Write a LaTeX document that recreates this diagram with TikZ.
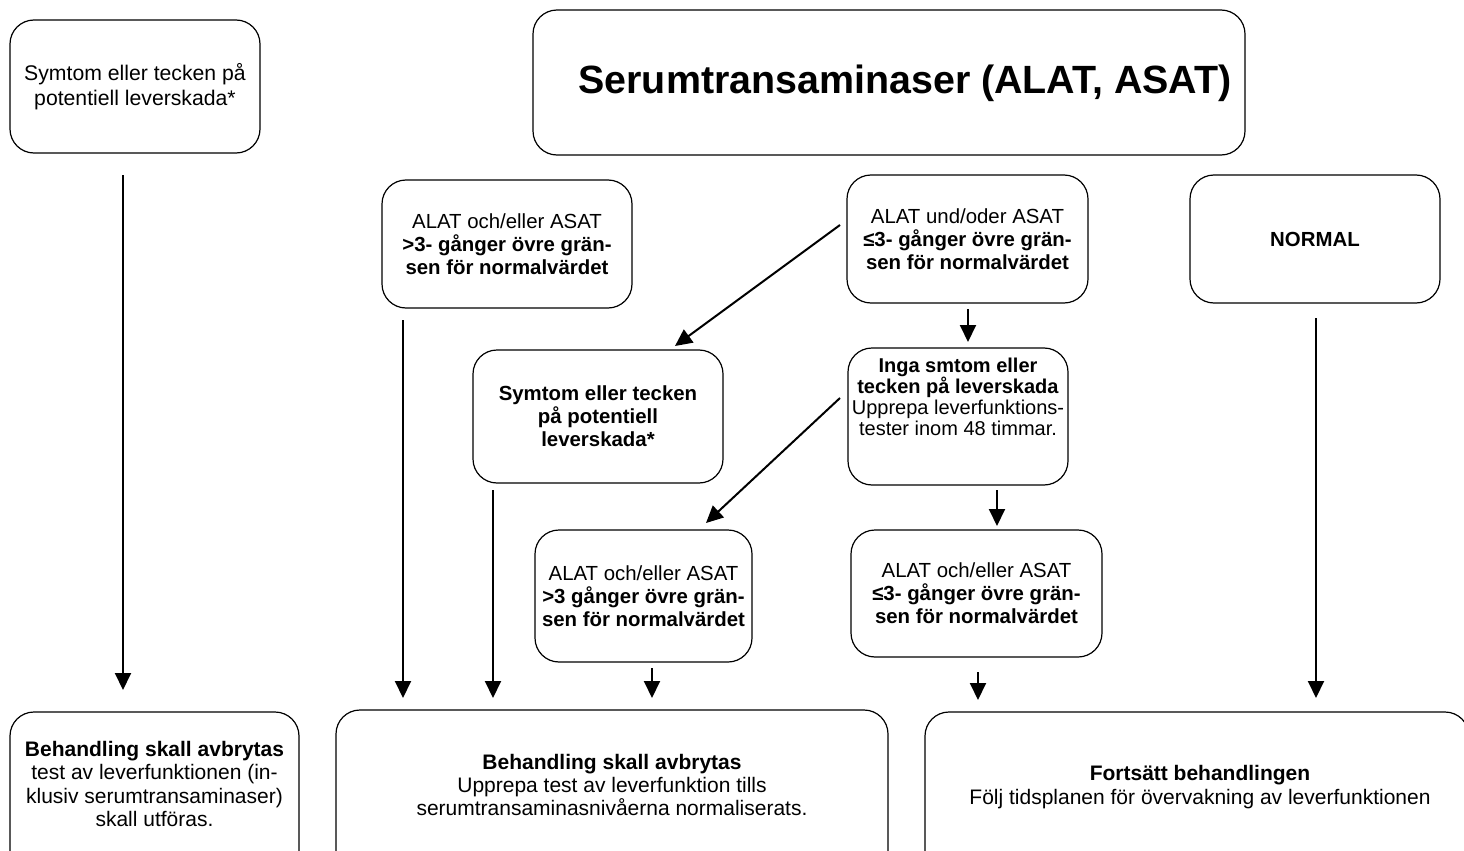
\documentclass[tikz,border=0pt]{standalone}
\usepackage{fontspec}
\setmainfont{Liberation Sans}
\usetikzlibrary{arrows.meta}
\begin{document}
\begin{tikzpicture}[x=0.5pt,y=-0.5pt,
  box/.style={draw, rounded corners=12pt, line width=0.6pt, inner sep=0pt, align=center, font=\fontsize{10.2}{11.5}\selectfont},
  bigtxt/.style={font=\fontsize{10.6}{12.4}\selectfont},
  txt/.style={align=center, inner sep=0pt, font=\fontsize{10.5}{11.6}\selectfont},
  arr/.style={line width=1pt, -{Triangle[length=8.5pt,width=8pt]}}]
\useasboundingbox (0,0) rectangle (1464,851);
\clip (0,0) rectangle (1464,851);

% top row
\node[box, bigtxt, minimum width=125pt, minimum height=66.5pt] (b1) at (135,86.5)
  {Symtom eller tecken på\\potentiell leverskada*};
\node[box, minimum width=356pt, minimum height=72.5pt] (title) at (889,82.5) {};
\node[txt, font=\fontsize{19.7}{22}\selectfont\bfseries] (titlet) at (905,83)
  {Serumtransaminaser (ALAT, ASAT)};

% second row
\node[box, minimum width=125pt, minimum height=64pt] (b3) at (507,244)
  {ALAT och/eller ASAT\\\textbf{>3- gånger övre grän-}\\\textbf{sen för normalvärdet}};
\node[box, minimum width=120.5pt, minimum height=64pt] (b4) at (967.5,239)
  {ALAT und/oder ASAT\\\textbf{≤3- gånger övre grän-}\\\textbf{sen för normalvärdet}};
\node[box, minimum width=125pt, minimum height=64pt] (normal) at (1315,239)
  {\textbf{NORMAL}};

% third row
\node[box, minimum width=125pt, minimum height=66.5pt] (b6) at (598,416.5)
  {\textbf{Symtom eller tecken}\\\textbf{på potentiell}\\\textbf{leverskada*}};
\node[box, minimum width=110pt, minimum height=68.5pt] (b7) at (958,416.5) {};
\node[txt, font=\fontsize{10}{10.6}\selectfont] (b7t) at (958,397)
  {\textbf{Inga smtom eller}\\\textbf{tecken på leverskada}\\Upprepa leverfunktions-\\tester inom 48 timmar.};

% fourth row
\node[box, minimum width=108.5pt, minimum height=66pt] (b8) at (643.5,596)
  {ALAT och/eller ASAT\\\textbf{>3 gånger övre grän-}\\\textbf{sen för normalvärdet}};
\node[box, minimum width=125.5pt, minimum height=63.5pt] (b9) at (976.5,593.5)
  {ALAT och/eller ASAT\\\textbf{≤3- gånger övre grän-}\\\textbf{sen för normalvärdet}};

% bottom row (cut by the page edge)
\node[box, minimum width=144.5pt, minimum height=94pt] (b10) at (154.5,806) {};
\node[txt] (b10t) at (154.5,784)
  {\textbf{Behandling skall avbrytas}\\test av leverfunktionen (in-\\klusiv serumtransaminaser)\\skall utföras.};
\node[box, minimum width=276pt, minimum height=95pt] (b11) at (612,805) {};
\node[txt] (b11t) at (612,785)
  {\textbf{Behandling skall avbrytas}\\Upprepa test av leverfunktion tills\\serumtransaminasnivåerna normaliserats.};
\node[box, minimum width=272pt, minimum height=94pt] (b12) at (1197,806) {};
\node[txt] (b12t) at (1200,787)
  {\textbf{Fortsätt behandlingen}\\Följ tidsplanen för övervakning av leverfunktionen};

% connector end points
\coordinate (a1s) at (123,175);  \coordinate (a1e) at (123,690);
\coordinate (a2s) at (403,320);  \coordinate (a2e) at (403,698);
\coordinate (a3s) at (493,490);  \coordinate (a3e) at (493,698);
\coordinate (a4s) at (652,668);  \coordinate (a4e) at (652,698);
\coordinate (a5s) at (978,672);  \coordinate (a5e) at (978,700);
\coordinate (a6s) at (1316,318); \coordinate (a6e) at (1316,698);
\coordinate (a7s) at (840,225);  \coordinate (a7e) at (675,346);
\coordinate (a8s) at (968,309);  \coordinate (a8e) at (968,342);
\coordinate (a9s) at (840,398);  \coordinate (a9e) at (706,523);
\coordinate (a10s) at (997,490); \coordinate (a10e) at (997,526);

\draw[arr] (a1s) -- (a1e);
\draw[arr] (a2s) -- (a2e);
\draw[arr] (a3s) -- (a3e);
\draw[arr] (a4s) -- (a4e);
\draw[arr] (a5s) -- (a5e);
\draw[arr] (a6s) -- (a6e);
\draw[arr] (a7s) -- (a7e);
\draw[arr] (a8s) -- (a8e);
\draw[arr] (a9s) -- (a9e);
\draw[arr] (a10s) -- (a10e);
\end{tikzpicture}
\end{document}
